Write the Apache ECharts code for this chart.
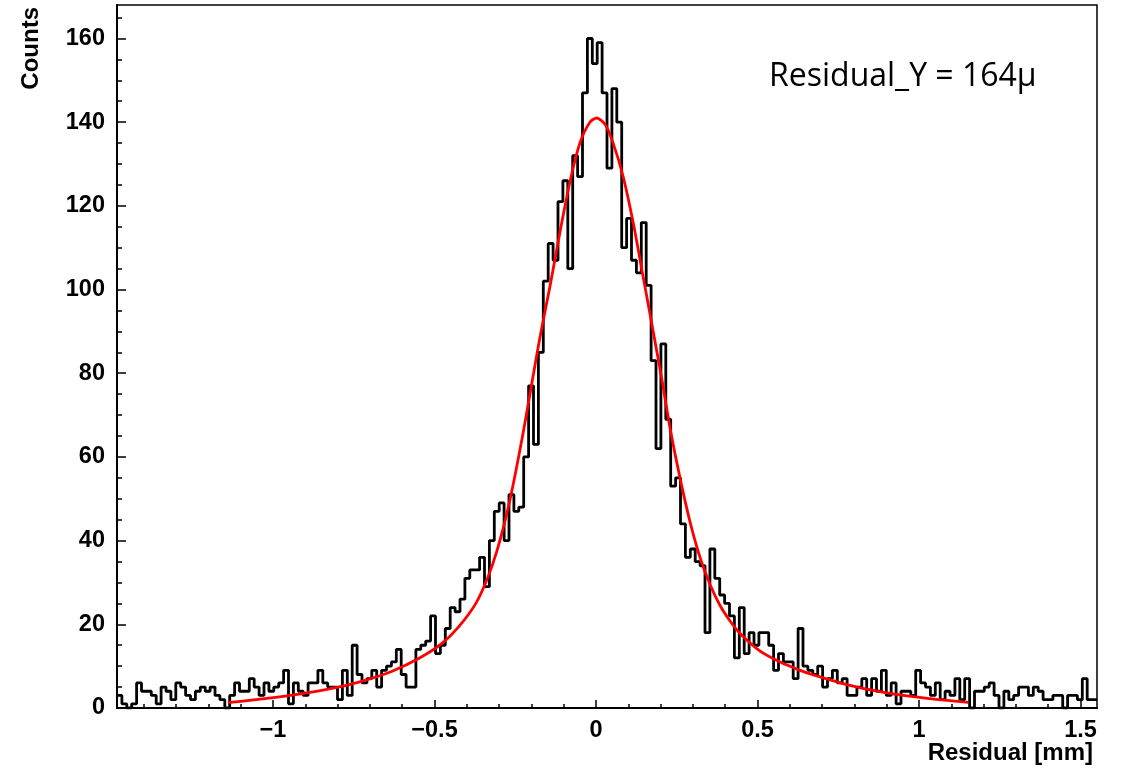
<!DOCTYPE html>
<html>
<head>
<meta charset="utf-8">
<script src="https://cdn.jsdelivr.net/npm/echarts@6/dist/echarts.min.js"></script>
<style>
html,body{margin:0;padding:0;background:#fff;}
#chart{width:1124px;height:770px;}
</style>
</head>
<body>
<div id="chart"></div>
<script>
// Histogram range (frame edges) and number of bins
const histMin = -1.483;
const histMax = 1.551;
const nBins = 200;

// Bin contents, read bin by bin from the picture (left to right)
const counts = [
  3,1,0,1,6,4,4,3,1,5,
  4,2,6,5,3,2,4,5,4,5,
  3,2,0,3,6,4,4,7,5,3,
  6,4,5,6,9,1,6,4,3,6,
  6,9,6,5,5,2,9,3,15,8,
  6,7,9,5,9,10,11,14,8,5,
  5,14,15,16,22,13,15,19,24,23,
  26,31,33,33,36,29,40,47,49,40,
  51,47,48,60,77,63,85,102,111,107,
  121,126,105,132,127,147,160,154,159,147,
  129,148,140,110,117,107,104,116,101,83,
  62,87,69,53,55,44,36,38,35,34,
  18,38,31,27,25,22,12,24,13,18,
  15,18,18,15,9,13,11,11,7,19,
  10,9,8,10,5,7,9,6,7,3,
  3,5,7,3,7,4,9,3,6,1,
  4,4,3,9,6,5,3,6,2,4,
  3,7,2,7,0,4,4,5,6,3,
  0,4,2,3,5,5,3,5,4,2,
  2,3,3,0,3,3,2,7,2,2
];

// Fit curve (red)
const fitX = [-1.139,-1.04,-0.94,-0.837,-0.734,-0.631,-0.545,-0.476,-0.424,-0.372,-0.336,-0.307,-0.276,-0.251,-0.225,-0.200,-0.175,-0.142,-0.111,-0.080,-0.050,-0.019,0.002,0.028,0.053,0.084,0.115,0.146,0.177,0.205,0.229,0.260,0.291,0.322,0.353,0.384,0.415,0.446,0.508,0.570,0.632,0.673,0.776,0.879,0.982,1.085,1.152];
const fitY = [1.3,2.1,3.1,4.4,6.2,8.8,12.0,15.5,19.5,25.0,31.0,37.5,46.5,55.5,66,77,88,101,114,126,135,140,141,139.5,135,127,116,103,90,78,67,55,44.5,36,29.5,24.5,20.8,17.8,13.6,11.0,9.0,7.9,5.6,3.9,2.7,1.8,1.35];

// Axis ticks
const xMajorTicks = [-1,-0.5,0,0.5,1,1.5];
const xMinorTicks = [-1.4,-1.3,-1.2,-1.1,-1.0,-0.9,-0.8,-0.7,-0.6,-0.5,-0.4,-0.3,-0.2,-0.1,0,0.1,0.2,0.3,0.4,0.5,0.6,0.7,0.8,0.9,1.0,1.1,1.2,1.3,1.4,1.5];
const yMajorTicks = [0,20,40,60,80,100,120,140,160];
const yMinorTicks = [5,10,15,25,30,35,45,50,55,65,70,75,85,90,95,105,110,115,125,130,135,145,150,155,165];
const yMax = 168;

const xTitle = 'Residual [mm]';
const yTitle = 'Counts';
const note = 'Residual_Y = 164μ';

// Build step outline of histogram from bin edges
const binW = (histMax - histMin) / nBins;
const histData = [];
counts.forEach((c, i) => {
  const lo = histMin + i * binW;
  histData.push([lo, c]);
  histData.push([lo + binW, c]);
});
const fitData = fitX.map((x, i) => [x, fitY[i]]);

const labelFont = {color:'#000', fontFamily:'Liberation Sans', fontWeight:'bold', fontSize:23.5};

const chart = echarts.init(document.getElementById('chart'), null, {renderer:'canvas'});
chart.setOption({
  animation:false,
  backgroundColor:'#fff',
  grid:{left:117, right:27, top:5, bottom:62, show:true, borderColor:'#000', borderWidth:1.5, backgroundColor:'transparent'},
  xAxis:[
    {type:'value', min:histMin, max:histMax, position:'bottom',
     axisLine:{show:true, onZero:false, lineStyle:{color:'#000', width:2}},
     axisTick:{show:true, inside:true, length:8, customValues:xMajorTicks, lineStyle:{color:'#000', width:1.5}},
     axisLabel:Object.assign({show:true, margin:11, customValues:xMajorTicks,
        formatter:v => String(v).replace('-', '\u2212')}, labelFont),
     splitLine:{show:false}},
    {type:'value', min:histMin, max:histMax, position:'bottom',
     axisLine:{show:false, onZero:false},
     axisTick:{show:true, inside:true, length:4, customValues:xMinorTicks, lineStyle:{color:'#000', width:1.5}},
     axisLabel:{show:false}, splitLine:{show:false}}
  ],
  yAxis:[
    {type:'value', min:0, max:yMax, position:'left',
     axisLine:{show:true, onZero:false, lineStyle:{color:'#000', width:2}},
     axisTick:{show:true, inside:true, length:9, customValues:yMajorTicks, lineStyle:{color:'#000', width:1.5}},
     axisLabel:Object.assign({show:true, margin:12, customValues:yMajorTicks}, labelFont),
     splitLine:{show:false}},
    {type:'value', min:0, max:yMax, position:'left',
     axisLine:{show:false, onZero:false},
     axisTick:{show:true, inside:true, length:5, customValues:yMinorTicks, lineStyle:{color:'#000', width:1.5}},
     axisLabel:{show:false}, splitLine:{show:false}}
  ],
  series:[
    {type:'line', xAxisIndex:0, yAxisIndex:0, data:histData, symbol:'none',
     lineStyle:{color:'#000', width:2.8}, z:2},
    {type:'line', xAxisIndex:0, yAxisIndex:0, data:fitData, symbol:'none', smooth:0.25,
     lineStyle:{color:'#ff0000', width:2.8, join:'round'}, z:3}
  ],
  graphic:[
    {type:'text', x:31, y:7, rotation:Math.PI/2,
     style:{text:yTitle, fill:'#000', font:'bold 24px "Liberation Sans"', align:'right', verticalAlign:'middle'}},
    {type:'text', x:1093, y:753,
     style:{text:xTitle, fill:'#000', font:'bold 24px "Liberation Sans"', align:'right', verticalAlign:'middle'}},
    {type:'text', x:769, y:77,
     style:{text:note, fill:'#000', font:'32px "Open Sans"', align:'left', verticalAlign:'middle'}}
  ]
});
</script>
</body>
</html>
